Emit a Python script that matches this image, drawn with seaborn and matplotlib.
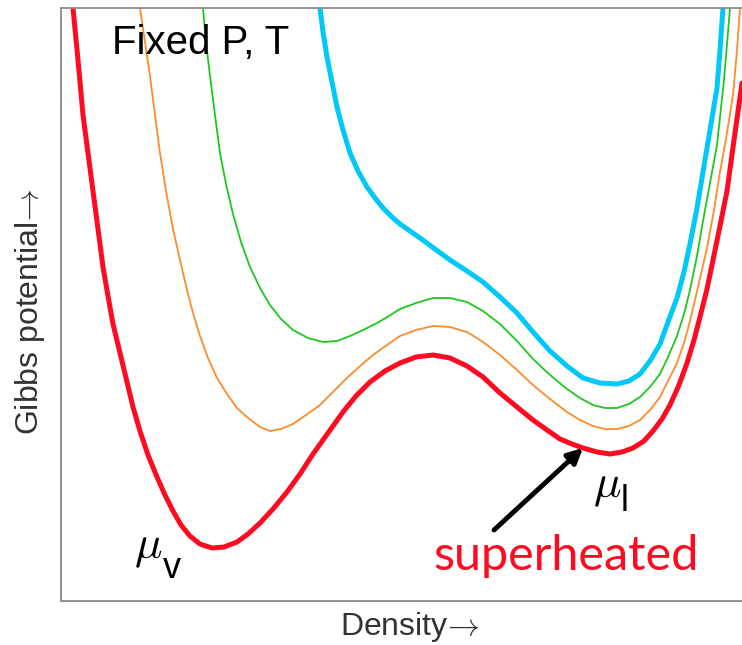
import seaborn as sns
import pandas as pd
import numpy as np
import matplotlib.pyplot as plt

# curvas de potencial de Gibbs (densidad, G), unidades arbitrarias
rojo_x = [12, 17, 22, 27, 32, 37, 42, 47, 52, 59, 66, 72, 79, 87, 96, 104, 112, 120, 129, 139,
          151, 163, 176, 187, 199, 212, 226, 239, 252, 267, 282, 295, 309, 324, 339, 355, 372,
          389, 406, 422, 439, 456, 472, 486, 499, 511, 522, 536, 549, 561, 572, 583, 592, 601,
          609, 618, 626, 633, 639, 646, 652, 659, 666, 673, 681]
rojo_y = [593, 541, 486, 448, 410, 372, 334, 305, 277, 248, 219, 194, 170, 146, 124, 106, 90,
          76, 65, 57, 53, 54, 59, 67, 78, 92, 109, 127, 147, 168, 189, 205, 219, 230, 238, 244,
          246, 243, 235, 224, 208, 194, 181, 171, 162, 157, 153, 149, 147, 149, 153, 160, 170,
          182, 196, 216, 238, 261, 284, 312, 341, 375, 410, 461, 518]

naranja_x = [79, 84, 89, 94, 99, 105, 112, 119, 126, 132, 139, 147, 156, 166, 176, 187, 199, 209,
             220, 232, 245, 259, 272, 286, 299, 312, 326, 339, 355, 372, 389, 406, 422, 439, 456,
             472, 489, 506, 519, 532, 544, 556, 568, 579, 589, 599, 607, 616, 623, 629, 637, 646,
             653, 659, 666, 672, 676, 679]
naranja_y = [593, 559, 525, 486, 448, 410, 372, 341, 311, 288, 265, 243, 223, 207, 193, 183, 174,
             170, 172, 177, 186, 196, 209, 223, 235, 246, 256, 265, 271, 275, 274, 269, 259, 246,
             231, 216, 202, 189, 181, 175, 172, 172, 175, 181, 191, 204, 220, 238, 258, 280, 314,
             353, 391, 429, 468, 506, 551, 593]

verde_x = [142, 145, 149, 154, 159, 165, 172, 180, 189, 199, 209, 220, 232, 247, 262, 276, 289,
           302, 316, 328, 339, 355, 372, 389, 406, 422, 439, 456, 472, 489, 506, 519, 532, 544,
           556, 568, 579, 589, 599, 607, 616, 623, 629, 636, 642, 649, 656, 663, 669]
verde_y = [593, 559, 525, 486, 448, 417, 387, 359, 334, 313, 296, 282, 271, 263, 259, 260, 265,
           271, 278, 285, 292, 298, 303, 303, 299, 290, 277, 260, 242, 226, 212, 203, 196, 193,
           193, 197, 204, 214, 227, 244, 265, 287, 311, 345, 380, 418, 456, 521, 593]

azul_x = [259, 262, 266, 271, 276, 282, 289, 297, 306, 314, 322, 331, 339, 349, 359, 374, 389,
          406, 422, 439, 456, 472, 489, 506, 522, 539, 556, 568, 579, 589, 599, 607, 616, 623,
          629, 636, 642, 649, 656, 659, 662]
azul_y = [593, 569, 544, 519, 494, 471, 448, 430, 414, 403, 393, 384, 377, 370, 363, 352, 341,
          330, 319, 304, 288, 269, 250, 235, 223, 218, 217, 220, 227, 240, 257, 279, 303, 329,
          357, 393, 429, 471, 513, 551, 593]

# flecha "superheated": cola y punta
flecha_cola = (433, 71)
flecha_punta = (522, 153)

curvas = [
    (rojo_x, rojo_y, '#ff0a20', 3.6),
    (naranja_x, naranja_y, '#ff8c2a', 1.3),
    (verde_x, verde_y, '#1ec81e', 1.3),
    (azul_x, azul_y, '#00c8f8', 3.6),
]

sns.set_style('white')
plt.rcParams['font.family'] = ['Liberation Sans', 'DejaVu Sans']
plt.rcParams['mathtext.fontset'] = 'cm'

fig = plt.figure(figsize=(7.42, 6.45), dpi=100)
ax = fig.add_axes([0.0822, 0.0682, 0.9178, 0.9194])

for xs, ys, color, lw in curvas:
    df = pd.DataFrame({'densidad': xs, 'gibbs': ys})
    sns.lineplot(data=df, x='densidad', y='gibbs', sort=False, estimator=None,
                 color=color, linewidth=lw, ax=ax, solid_joinstyle='round',
                 solid_capstyle='round')

ax.set_xlim(0, 681)
ax.set_ylim(0, 593)
ax.set_xticks([])
ax.set_yticks([])
ax.set_xlabel(r'Density$\!\rightarrow$', fontsize=23, color='#333333')
ax.set_ylabel(r'Gibbs potential$\!\rightarrow$', fontsize=23, color='#333333')
ax.xaxis.set_label_coords(0.512, -0.015)
ax.yaxis.set_label_coords(-0.02, 0.487)

for lado in ['left', 'bottom', 'top']:
    ax.spines[lado].set_color('#8a8a8a')
    ax.spines[lado].set_linewidth(1.3)
ax.spines['right'].set_visible(False)

ax.text(51, 558, 'Fixed P, T', fontsize=29, color='black', va='center', ha='left')

# etiquetas mu
ax.text(73, 53, r'$\mu$', fontsize=33, color='black', va='center', ha='left')
ax.text(102, 33, 'v', fontsize=26, color='black', va='center', ha='left')
ax.text(532, 114, r'$\mu$', fontsize=33, color='black', va='center', ha='left')
ax.text(560, 100, 'l', fontsize=26, color='black', va='center', ha='left')

ax.text(372, 45, 'superheated', fontsize=35, color='#ff0a20', va='center', ha='left',
        family=['Lato', 'DejaVu Sans'])

ax.annotate('', xy=flecha_punta, xytext=flecha_cola,
            arrowprops=dict(arrowstyle='-|>', color='black', lw=3.5, mutation_scale=22,
                            shrinkA=0, shrinkB=0))

plt.savefig('out.png', dpi=100)
plt.close()
